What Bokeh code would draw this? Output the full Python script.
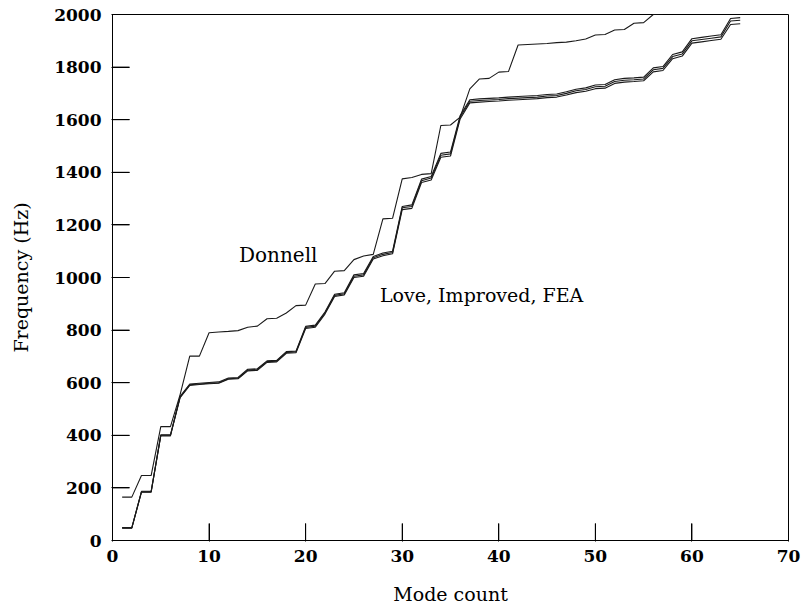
from bokeh.plotting import figure
from bokeh.models import Range1d, FixedTicker, ColumnDataSource
from bokeh.core.properties import value
from bokeh.embed import file_html
from bokeh.resources import INLINE

modes = list(range(1, 66))
love = [48,48,185,185,400,400,545,592,595,598,600,615,617,648,650,680,682,715,717,810,
        815,865,932,938,1005,1010,1075,1088,1095,1265,1270,1368,1378,1465,1470,1610,1670,1673,1675,1677,
        1680,1682,1684,1686,1690,1692,1700,1710,1715,1725,1727,1745,1750,1752,1755,1790,1795,1840,1850,1900,
        1905,1910,1915,1975,1978]
improved = [47,47,184,184,398,398,543,590,593,596,598,613,615,645,647,677,679,712,714,806,
            811,861,928,934,1000,1005,1070,1083,1090,1258,1263,1361,1371,1457,1462,1603,1664,1667,1669,1671,
            1674,1676,1678,1680,1684,1686,1694,1703,1708,1718,1720,1738,1743,1745,1748,1782,1787,1832,1842,1891,
            1896,1901,1906,1962,1965]
fea = [49,49,187,187,402,402,548,595,598,601,603,618,620,651,653,683,685,718,720,814,
       819,869,936,942,1010,1015,1080,1093,1100,1270,1276,1374,1384,1472,1477,1616,1676,1679,1681,1683,
       1686,1688,1690,1692,1696,1698,1706,1716,1721,1732,1734,1752,1757,1759,1762,1797,1802,1848,1858,1908,
       1913,1918,1923,1985,1988]
donnell_modes = list(range(1, 59))
donnell = [165,165,247,247,433,433,555,701,701,790,793,795,798,811,815,843,845,865,893,895,
           975,977,1024,1026,1068,1082,1088,1223,1225,1375,1380,1392,1395,1578,1580,1610,1717,1755,1757,1781,
           1783,1884,1886,1888,1890,1893,1895,1900,1907,1922,1924,1941,1943,1967,1969,2000,2003,2045]

x_ticks = [0, 10, 20, 30, 40, 50, 60, 70]
y_ticks = [0, 200, 400, 600, 800, 1000, 1200, 1400, 1600, 1800, 2000]

SERIF = "DejaVu Serif"
W, H = 801, 611
BL, BR, BT, BB = 112, 13, 14, 71
XMAX, YMAX = 70, 2000
TICK_PX = 17

p = figure(width=W, height=H, output_backend="svg", toolbar_location=None,
           x_range=Range1d(0, XMAX), y_range=Range1d(0, YMAX),
           min_border_left=BL, min_border_right=BR, min_border_top=BT, min_border_bottom=BB)
p.grid.visible = False
p.outline_line_color = "black"

p.xaxis.ticker = FixedTicker(ticks=x_ticks)
p.yaxis.ticker = FixedTicker(ticks=y_ticks)
p.xaxis.major_tick_in = TICK_PX
p.yaxis.major_tick_in = TICK_PX
p.xaxis.major_tick_out = 1
p.yaxis.major_tick_out = 1
p.xaxis.minor_tick_in = 0
p.yaxis.minor_tick_in = 0
p.xaxis.minor_tick_out = 0
p.yaxis.minor_tick_out = 0
p.xaxis.major_tick_line_color = "black"
p.yaxis.major_tick_line_color = "black"
p.xaxis.axis_line_color = "black"
p.yaxis.axis_line_color = "black"

p.xaxis.major_label_text_font = SERIF
p.yaxis.major_label_text_font = SERIF
p.xaxis.major_label_text_font_size = "17px"
p.yaxis.major_label_text_font_size = "17px"
p.xaxis.major_label_text_font_style = "bold"
p.yaxis.major_label_text_font_style = "bold"
p.xaxis.major_label_text_color = "black"
p.yaxis.major_label_text_color = "black"
p.xaxis.axis_label = "Mode count"
p.yaxis.axis_label = "Frequency (Hz)"
p.xaxis.axis_label_text_font = SERIF
p.yaxis.axis_label_text_font = SERIF
p.xaxis.axis_label_text_font_size = "19px"
p.yaxis.axis_label_text_font_size = "19px"
p.xaxis.axis_label_text_font_style = "normal"
p.yaxis.axis_label_text_font_style = "normal"
p.xaxis.axis_label_text_color = "black"
p.yaxis.axis_label_text_color = "black"
p.xaxis.major_label_standoff = 8
p.yaxis.major_label_standoff = 10
p.xaxis.axis_label_standoff = 18
p.yaxis.axis_label_standoff = 19

# inward tick marks drawn from the tick lists (backup for the axis ticks)
fw = W - BL - BR
fh = H - BT - BB
dy = TICK_PX * YMAX / fh
dx = TICK_PX * XMAX / fw
xt = x_ticks[1:-1]
yt = y_ticks[1:-1]
tx = ColumnDataSource(dict(x0=xt, y0=[0] * len(xt), x1=xt, y1=[dy] * len(xt)))
ty = ColumnDataSource(dict(x0=[0] * len(yt), y0=yt, x1=[dx] * len(yt), y1=yt))
p.segment(x0="x0", y0="y0", x1="x1", y1="y1", source=tx, line_color="black", line_width=1)
p.segment(x0="x0", y0="y0", x1="x1", y1="y1", source=ty, line_color="black", line_width=1)

p.line(donnell_modes, donnell, line_color="#1a1a1a", line_width=1.1)
p.line(modes, love, line_color="#1a1a1a", line_width=1.1)
p.line(modes, improved, line_color="#1a1a1a", line_width=1.1)
p.line(modes, fea, line_color="#1a1a1a", line_width=1.1)

p.text(x=[13.1], y=[1040], text=["Donnell"], text_font=value(SERIF),
       text_font_size="20px", text_color="black", text_baseline="bottom")
p.text(x=[27.7], y=[890], text=["Love, Improved, FEA"], text_font=value(SERIF),
       text_font_size="19px", text_color="black", text_baseline="bottom")

open("out.html", "w").write(file_html(p, INLINE))
